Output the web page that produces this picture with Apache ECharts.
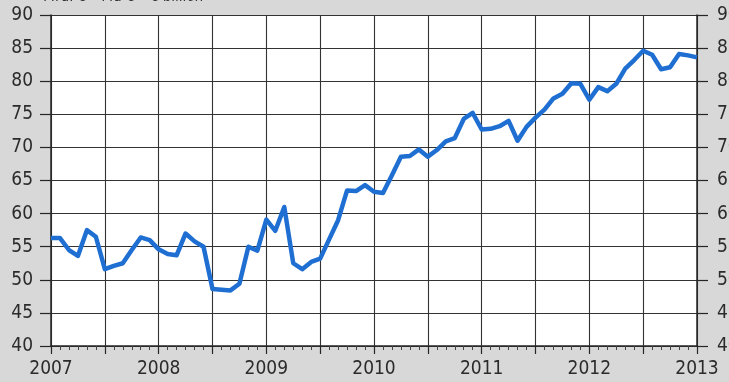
<!DOCTYPE html>
<html>
<head>
<meta charset="utf-8">
<script src="https://cdn.jsdelivr.net/npm/echarts@6/dist/echarts.min.js"></script>
<style>
  html, body { margin: 0; padding: 0; background: #d8d8d8; }
  #chart { width: 729px; height: 382px; }
</style>
</head>
<body>
<div id="chart"></div>
<script>
  // months counted from Jan 2007 (0) to Jan 2013 (72)
  var startYear = 2007;
  var yearTicks = [0, 12, 24, 36, 48, 60, 72];
  var values = [
    56.3, 56.3, 54.5, 53.6, 57.5, 56.5, 51.6, 52.1, 52.5, 54.5, 56.4, 56.0,
    54.6, 53.9, 53.7, 57.0, 55.8, 55.0, 48.6, 48.5, 48.4, 49.4, 55.0, 54.4,
    59.1, 57.4, 61.0, 52.5, 51.6, 52.7, 53.2, 56.1, 59.0, 63.5, 63.4, 64.3,
    63.3, 63.1, 65.8, 68.6, 68.7, 69.7, 68.6, 69.6, 70.9, 71.4, 74.3, 75.2,
    72.7, 72.8, 73.2, 74.0, 71.0, 73.1, 74.5, 75.7, 77.4, 78.1, 79.7, 79.6,
    77.2, 79.1, 78.5, 79.6, 81.9, 83.2, 84.6, 84.0, 81.8, 82.1, 84.1, 83.9,
    83.6
  ];
  var unitText = 'Mrd. \u20ac \u2013 Md \u20ac \u2013 \u20ac billion';

  var chart = echarts.init(document.getElementById('chart'));
  var fontFamily = '"DejaVu Sans Condensed", "Liberation Sans Narrow", sans-serif';

  var points = values.map(function(v, i) { return [i, v]; });

  function yAxis(pos, margin) {
    return {
      type: 'value',
      position: pos,
      min: 40,
      max: 90,
      interval: 5,
      axisLine: { show: true, lineStyle: { color: '#262626', width: 1.5 } },
      axisTick: { show: true, length: 11, lineStyle: { color: '#262626', width: 1.2 } },
      axisLabel: { margin: margin, fontSize: 19, color: '#2b2b2b', fontFamily: fontFamily },
      splitLine: { show: pos === 'left', lineStyle: { color: '#333', width: 1.1 } }
    };
  }

  chart.setOption({
    animation: false,
    backgroundColor: '#d8d8d8',
    grid: {
      left: 51, right: 32, top: 15, bottom: 36,
      outerBoundsMode: 'none',
      containLabel: false,
      show: true, backgroundColor: '#ffffff', borderWidth: 0
    },
    graphic: [{
      type: 'text',
      x: 44,
      y: 5,
      style: {
        text: unitText,
        fontSize: 15,
        fontStyle: 'italic',
        fontFamily: fontFamily,
        fill: '#333',
        verticalAlign: 'bottom'
      }
    }],
    xAxis: {
      type: 'value',
      min: 0,
      max: 72,
      interval: 6,
      axisLine: { show: true, lineStyle: { color: '#262626', width: 1.5 } },
      axisTick: { show: true, length: 8, lineStyle: { color: '#262626', width: 1.2 } },
      minorTick: { show: true, splitNumber: 6, length: 4, lineStyle: { color: '#444', width: 1 } },
      axisLabel: {
        margin: 14,
        fontSize: 19,
        color: '#2b2b2b',
        fontFamily: fontFamily,
        formatter: function(v) {
          return yearTicks.indexOf(v) >= 0 ? String(startYear + v / 12) : '';
        }
      },
      splitLine: { show: true, lineStyle: { color: '#333', width: 1.1 } }
    },
    yAxis: [yAxis('left', 18), yAxis('right', 20)],
    series: [{
      type: 'line',
      data: points,
      showSymbol: false,
      lineStyle: { color: '#1f6fd2', width: 4.5, join: 'round' },
      itemStyle: { color: '#1f6fd2' }
    }]
  });
</script>
</body>
</html>
